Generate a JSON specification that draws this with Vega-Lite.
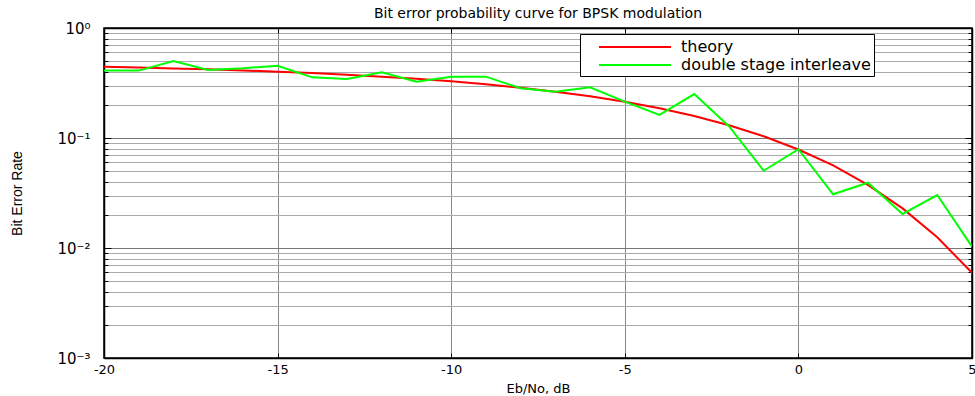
{
  "$schema": "https://vega.github.io/schema/vega-lite/v6.json",
  "width": 868,
  "height": 330,
  "autosize": "none",
  "padding": {"left": 104, "top": 28, "right": 3, "bottom": 38},
  "background": "white",
  "title": {"text": "Bit error probability curve for BPSK modulation", "font": "DejaVu Sans", "fontSize": 14, "fontWeight": "normal", "color": "black", "offset": 0, "anchor": "middle"},
  "config": {"view": {"stroke": "black", "strokeWidth": 1.5}},
  "data": {"values": [
    {"ebno": -20, "ber": 0.4438, "series": "theory"},
    {"ebno": -19, "ber": 0.4370, "series": "theory"},
    {"ebno": -18, "ber": 0.4293, "series": "theory"},
    {"ebno": -17, "ber": 0.4208, "series": "theory"},
    {"ebno": -16, "ber": 0.4113, "series": "theory"},
    {"ebno": -15, "ber": 0.4007, "series": "theory"},
    {"ebno": -14, "ber": 0.3889, "series": "theory"},
    {"ebno": -13, "ber": 0.3758, "series": "theory"},
    {"ebno": -12, "ber": 0.3613, "series": "theory"},
    {"ebno": -11, "ber": 0.3451, "series": "theory"},
    {"ebno": -10, "ber": 0.3274, "series": "theory"},
    {"ebno": -9, "ber": 0.3079, "series": "theory"},
    {"ebno": -8, "ber": 0.2867, "series": "theory"},
    {"ebno": -7, "ber": 0.2638, "series": "theory"},
    {"ebno": -6, "ber": 0.2392, "series": "theory"},
    {"ebno": -5, "ber": 0.2132, "series": "theory"},
    {"ebno": -4, "ber": 0.1861, "series": "theory"},
    {"ebno": -3, "ber": 0.1584, "series": "theory"},
    {"ebno": -2, "ber": 0.1306, "series": "theory"},
    {"ebno": -1, "ber": 0.1038, "series": "theory"},
    {"ebno": 0, "ber": 0.0786, "series": "theory"},
    {"ebno": 1, "ber": 0.0563, "series": "theory"},
    {"ebno": 2, "ber": 0.0375, "series": "theory"},
    {"ebno": 3, "ber": 0.0229, "series": "theory"},
    {"ebno": 4, "ber": 0.0125, "series": "theory"},
    {"ebno": 5, "ber": 0.00595, "series": "theory"},
    {"ebno": -20, "ber": 0.41, "series": "double stage interleave"},
    {"ebno": -19, "ber": 0.41, "series": "double stage interleave"},
    {"ebno": -18, "ber": 0.50, "series": "double stage interleave"},
    {"ebno": -17, "ber": 0.415, "series": "double stage interleave"},
    {"ebno": -16, "ber": 0.43, "series": "double stage interleave"},
    {"ebno": -15, "ber": 0.454, "series": "double stage interleave"},
    {"ebno": -14, "ber": 0.356, "series": "double stage interleave"},
    {"ebno": -13, "ber": 0.344, "series": "double stage interleave"},
    {"ebno": -12, "ber": 0.396, "series": "double stage interleave"},
    {"ebno": -11, "ber": 0.325, "series": "double stage interleave"},
    {"ebno": -10, "ber": 0.361, "series": "double stage interleave"},
    {"ebno": -9, "ber": 0.361, "series": "double stage interleave"},
    {"ebno": -8, "ber": 0.283, "series": "double stage interleave"},
    {"ebno": -7, "ber": 0.264, "series": "double stage interleave"},
    {"ebno": -6, "ber": 0.289, "series": "double stage interleave"},
    {"ebno": -5, "ber": 0.214, "series": "double stage interleave"},
    {"ebno": -4, "ber": 0.162, "series": "double stage interleave"},
    {"ebno": -3, "ber": 0.251, "series": "double stage interleave"},
    {"ebno": -2, "ber": 0.128, "series": "double stage interleave"},
    {"ebno": -1, "ber": 0.0504, "series": "double stage interleave"},
    {"ebno": 0, "ber": 0.079, "series": "double stage interleave"},
    {"ebno": 1, "ber": 0.0308, "series": "double stage interleave"},
    {"ebno": 2, "ber": 0.0392, "series": "double stage interleave"},
    {"ebno": 3, "ber": 0.0204, "series": "double stage interleave"},
    {"ebno": 4, "ber": 0.0303, "series": "double stage interleave"},
    {"ebno": 5, "ber": 0.0103, "series": "double stage interleave"}
  ]},
  "resolve": {"axis": {"x": "independent", "y": "independent"}},
  "layer": [
    {
      "mark": {"type": "line", "strokeWidth": 2, "clip": true},
      "encoding": {
        "x": {"field": "ebno", "type": "quantitative",
          "scale": {"domain": [-20, 5], "nice": false, "zero": false},
          "axis": {"values": [-20, -15, -10, -5, 0, 5], "title": "Eb/No, dB", "grid": true, "gridColor": "#888888", "gridWidth": 1,
            "labelExpr": "replace(datum.label, '−', '-')",
            "domainColor": "black", "domainWidth": 1.5, "tickColor": "black", "tickSize": -5, "labelPadding": 10,
            "labelFont": "DejaVu Sans", "labelFontSize": 13, "labelColor": "black", "labelFlush": false,
            "titleFont": "DejaVu Sans", "titleFontSize": 13, "titleFontWeight": "normal", "titleColor": "black", "titlePadding": 6}},
        "y": {"field": "ber", "type": "quantitative",
          "scale": {"type": "log", "domain": [0.001, 1], "nice": false},
          "axis": {"values": [0.001, 0.002, 0.003, 0.004, 0.005, 0.006, 0.007, 0.008, 0.009, 0.01, 0.02, 0.03, 0.04, 0.05, 0.06, 0.07, 0.08, 0.09, 0.1, 0.2, 0.3, 0.4, 0.5, 0.6, 0.7, 0.8, 0.9, 1],
            "labelExpr": "datum.value == 1 ? '10⁰' : datum.value == 0.1 ? '10⁻¹' : datum.value == 0.01 ? '10⁻²' : datum.value == 0.001 ? '10⁻³' : ''",
            "title": "Bit Error Rate", "grid": true,
            "gridColor": {"condition": {"test": "datum.value == 1 || datum.value == 0.1 || datum.value == 0.01 || datum.value == 0.001", "value": "#777777"}, "value": "#aaaaaa"},
            "gridWidth": 1,
            "tickSize": {"condition": {"test": "datum.value == 1 || datum.value == 0.1 || datum.value == 0.01 || datum.value == 0.001", "value": -7}, "value": -4},
            "domainColor": "black", "domainWidth": 1.5, "tickColor": "black", "labelPadding": 21, "labelFlush": false,
            "labelFont": "DejaVu Sans", "labelFontSize": 15, "labelColor": "black",
            "titleFont": "Liberation Sans", "titleFontSize": 14, "titleFontWeight": "normal", "titleColor": "black", "titlePadding": 32}},
        "color": {"field": "series", "type": "nominal",
          "scale": {"domain": ["theory", "double stage interleave"], "range": ["#ff0000", "#00ff00"]},
          "legend": {"title": null, "orient": "none", "legendX": 476, "legendY": 6, "fillColor": "white", "strokeColor": "black",
            "padding": 3, "symbolType": "M-4,0H4", "symbolSize": 324, "symbolStrokeWidth": 2, "symbolOffset": 42,
            "labelFont": "DejaVu Sans", "labelFontSize": 16, "labelColor": "black", "labelOffset": 36, "rowPadding": -1, "labelLimit": 400}}
      }
    },
    {
      "mark": {"type": "line", "strokeOpacity": 0},
      "encoding": {
        "x": {"field": "ebno", "type": "quantitative",
          "scale": {"domain": [-20, 5], "nice": false, "zero": false},
          "axis": {"orient": "top", "values": [-20, -15, -10, -5, 0, 5], "labels": false, "title": null, "grid": false, "domainColor": "black", "domainWidth": 1.5, "tickColor": "black", "tickSize": -5}},
        "y": {"field": "ber", "type": "quantitative",
          "scale": {"type": "log", "domain": [0.001, 1], "nice": false},
          "axis": {"orient": "right", "values": [0.001, 0.002, 0.003, 0.004, 0.005, 0.006, 0.007, 0.008, 0.009, 0.01, 0.02, 0.03, 0.04, 0.05, 0.06, 0.07, 0.08, 0.09, 0.1, 0.2, 0.3, 0.4, 0.5, 0.6, 0.7, 0.8, 0.9, 1],
            "labels": false, "title": null, "grid": false, "domainColor": "black", "domainWidth": 1.5, "tickColor": "black",
            "tickSize": {"condition": {"test": "datum.value == 1 || datum.value == 0.1 || datum.value == 0.01 || datum.value == 0.001", "value": -7}, "value": -4}}},
        "detail": {"field": "series", "type": "nominal"}
      }
    }
  ]
}
